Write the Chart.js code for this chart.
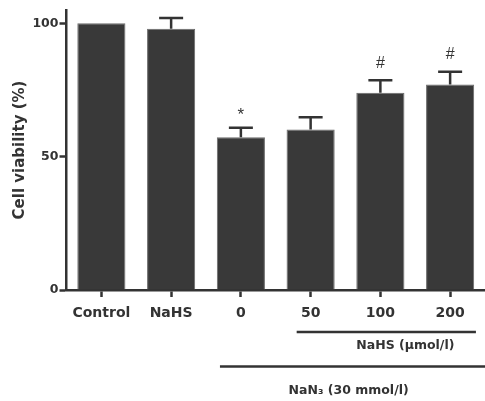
<!DOCTYPE html>
<html>
<head>
<meta charset="utf-8">
<script src="https://cdn.jsdelivr.net/npm/chart.js@4.4.0/dist/chart.umd.min.js"></script>
<style>
html,body{margin:0;padding:0;background:#fff;}
#wrap{width:485px;height:401px;position:relative;}
</style>
</head>
<body>
<div id="wrap"><canvas id="c" width="485" height="401"></canvas></div>
<script>
const categories = ['Control', 'NaHS', '0', '50', '100', '200'];
const viability = [100, 98, 57.3, 60.2, 74, 77.1];
const errorPlus = [0, 4, 3.5, 4.6, 4.7, 4.7];
const marks = ['', '', '*', '', '#', '#'];
const yTicks = [0, 50, 100];
const nahsLabel = 'NaHS (μmol/l)';
const nan3Label = 'NaN₃ (30 mmol/l)';

const INK = '#333333';
const FONT = '"DejaVu Sans", "Liberation Sans", Arial, sans-serif';
const AFONT = '"Liberation Sans", Arial, sans-serif';

const extras = {
  id: 'extras',
  afterDatasetsDraw(chart) {
    const ctx = chart.ctx;
    const x = chart.scales.x, y = chart.scales.y;
    const meta = chart.getDatasetMeta(0);
    ctx.save();
    ctx.strokeStyle = INK;
    ctx.fillStyle = INK;
    ctx.lineWidth = 2.5;
    viability.forEach((v, i) => {
      const cx = meta.data[i].x;
      const top = y.getPixelForValue(v);
      const errTop = y.getPixelForValue(v + errorPlus[i]);
      if (errorPlus[i] > 0) {
        ctx.beginPath();
        ctx.moveTo(cx, top);
        ctx.lineTo(cx, errTop);
        ctx.moveTo(cx - 12, errTop);
        ctx.lineTo(cx + 12, errTop);
        ctx.stroke();
      }
      if (marks[i]) {
        ctx.textAlign = 'center';
        ctx.textBaseline = 'middle';
        if (marks[i] === '*') {
          ctx.font = '17px ' + AFONT;
          ctx.fillText(marks[i], cx, errTop - 13);
        } else {
          ctx.font = '16px ' + AFONT;
          ctx.fillText(marks[i], cx, errTop - 17);
        }
      }
    });
    const cw = x.getPixelForValue(1) - x.getPixelForValue(0);
    // NaHS bracket
    const nY = chart.chartArea.bottom + 42;
    const n1 = x.getPixelForValue(3) - 0.2 * cw;
    const n2 = x.getPixelForValue(5) + 0.37 * cw;
    ctx.lineWidth = 2.5;
    ctx.beginPath(); ctx.moveTo(n1, nY); ctx.lineTo(n2, nY); ctx.stroke();
    ctx.font = 'bold 12.5px ' + FONT;
    ctx.textAlign = 'center';
    ctx.textBaseline = 'middle';
    ctx.fillText(nahsLabel, x.getPixelForValue(4) + 25, nY + 14);
    // NaN3 bracket
    const aY = chart.chartArea.bottom + 76.5;
    const a1 = x.getPixelForValue(2) - 0.3 * cw;
    const a2 = chart.width;
    ctx.beginPath(); ctx.moveTo(a1, aY); ctx.lineTo(a2, aY); ctx.stroke();
    ctx.fillText(nan3Label, x.getPixelForValue(3) + 38, aY + 24);
    ctx.restore();
  }
};

new Chart(document.getElementById('c'), {
  type: 'bar',
  data: {
    labels: categories,
    datasets: [{
      data: viability,
      backgroundColor: '#393939',
      borderColor: '#6a6a6a',
      borderWidth: { top: 1, left: 1, right: 1, bottom: 0 },
      barPercentage: 0.69,
      categoryPercentage: 1.0
    }]
  },
  options: {
    responsive: false,
    animation: false,
    devicePixelRatio: 1,
    layout: { padding: { left: 0, right: 0, top: 10, bottom: 81 } },
    plugins: { legend: { display: false }, tooltip: { enabled: false } },
    scales: {
      x: {
        afterFit(s) { s.height = 30; },
        grid: { display: true, drawOnChartArea: false, drawTicks: true, tickLength: 7, tickWidth: 2.5, tickColor: INK, offset: false },
        border: { display: true, color: INK, width: 2.5 },
        ticks: { color: INK, padding: 8, font: { family: FONT, size: 14, weight: 'bold' }, maxRotation: 0 }
      },
      y: {
        min: 0, max: 105,
        afterFit(s) { s.width = 66.5; },
        afterBuildTicks(s) { s.ticks = yTicks.map(v => ({ value: v })); },
        grid: { display: true, drawOnChartArea: false, drawTicks: true, tickLength: 7, tickWidth: 2.5, tickColor: INK },
        border: { display: true, color: INK, width: 2.5 },
        ticks: { color: INK, padding: 1, font: { family: FONT, size: 12.5, weight: 'bold' } },
        title: { display: true, text: 'Cell viability (%)', color: INK, padding: { top: 11, bottom: 0 }, font: { family: FONT, size: 15, weight: 'bold' } }
      }
    }
  },
  plugins: [extras]
});
</script>
</body>
</html>
